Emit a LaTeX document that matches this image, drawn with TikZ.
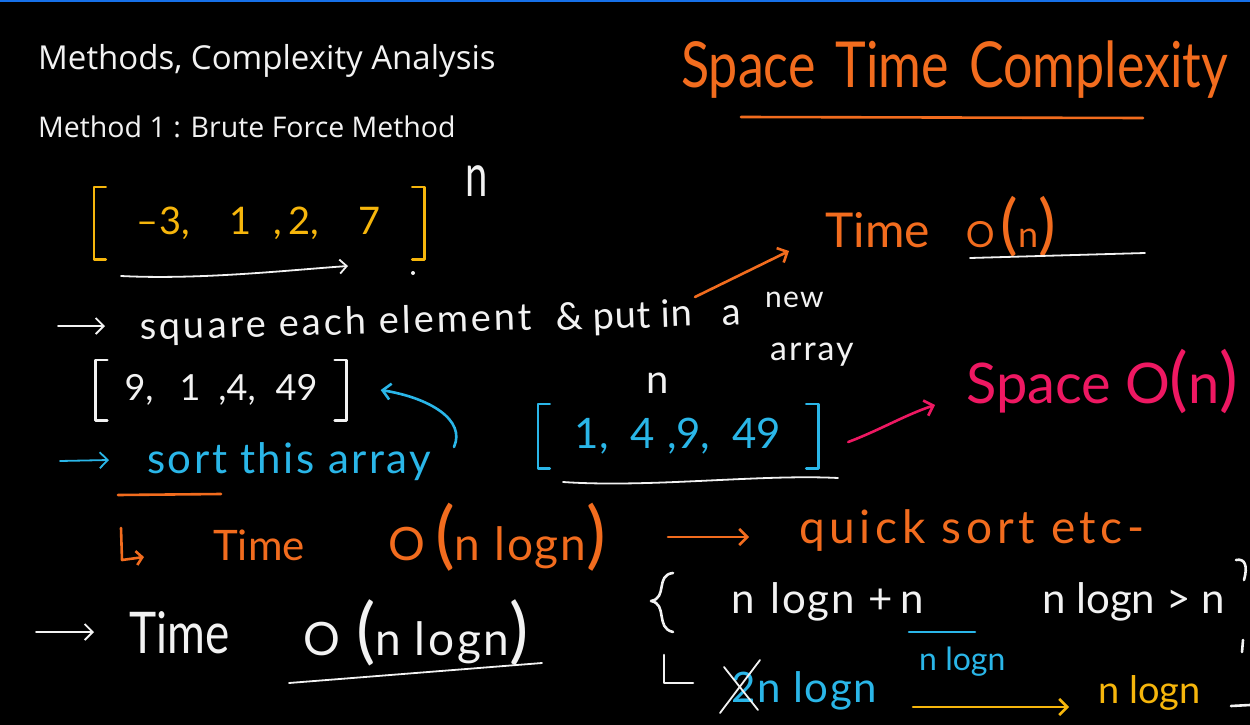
\documentclass[tikz,border=0pt]{standalone}
\usepackage{fontspec}
\setmainfont{Open Sans}
\newfontfamily\handfont{Lato}
\usetikzlibrary{arrows.meta}
\definecolor{chalk}{RGB}{242,242,242}
\definecolor{ora}{RGB}{242,108,30}
\definecolor{yel}{RGB}{246,182,12}
\definecolor{sky}{RGB}{42,182,232}
\definecolor{pnk}{RGB}{238,24,98}
\definecolor{topblue}{RGB}{22,112,232}
\newcommand\hfs[1]{\handfont\fontsize{#1}{#1}\selectfont}
\newcommand\fsz[2]{{\fontsize{#1}{#1}\selectfont #2}}
\newcommand\lsp[1]{\addfontfeature{LetterSpace=#1}}
\begin{document}
\begin{tikzpicture}[x=1pt,y=-1pt,
  hw/.style={inner sep=0pt, anchor=base west},
  ink/.style={line width=2.6pt, line cap=round, line join=round},
  thinink/.style={line width=1.8pt, line cap=round, line join=round},
  tip/.style={-{Straight Barb[length=8pt,width=16pt]}},
  arrbox/.style={inner sep=0pt},
]
\useasboundingbox (0,0) rectangle (1250,725);
\fill[black] (0,0) rectangle (1250,725);
\fill[topblue] (0,0) rectangle (1250,2.5);

% typed titles
\node[hw, chalk, font=\fontsize{33}{33}\selectfont] (title) at (38,70) {Methods, Complexity Analysis};
\node[hw, chalk, font=\fontsize{28.5}{28.5}\selectfont] (method) at (38,137) {Method 1 : Brute Force Method};

% Space Time Complexity
\node[hw, ora, font=\hfs{52}, yscale=1.22, transform shape] (stc) at (681,87) {Space\hspace{20pt}Time\hspace{20pt}Complexity};
\draw[ink, ora] (741,117) -- (1143,118);

% yellow array
\node[arrbox, yel, font=\hfs{38}, minimum width=330pt, minimum height=72pt] (arr1) at (259,223) {–3,\hspace{40pt}1\hspace{22pt},\hspace{6pt}2,\hspace{40pt}7};
\draw[ink, yel] ([xshift=12pt]arr1.north west) -- (arr1.north west) -- (arr1.south west) -- ([xshift=12pt]arr1.south west);
\draw[ink, yel] ([xshift=-12pt]arr1.north east) -- (arr1.north east) -- (arr1.south east) -- ([xshift=-12pt]arr1.south east);
\coordinate (w1a) at (121,276);
\coordinate (w1b) at (348,266);
\draw[thinink, chalk, -{Straight Barb[length=7pt,width=14pt]}] (w1a) .. controls (200,280) and (290,270) .. (w1b);
\fill[chalk] (413,273) circle (2pt);
\node[hw, chalk, font=\hfs{40}, yscale=1.5, transform shape] (n1) at (465,196) {n};

% Time O(n)
\node[hw, ora, font=\hfs{48}] (tOn) at (825,247) {Time\hspace{36pt}\fsz{36}{O}\hspace{6pt}\fsz{66}{(}\fsz{36}{n}\fsz{66}{)}};
\draw[thinink, chalk] (970,258) -- (1145,253);
\coordinate (oa1) at (695,297);
\draw[ink, ora, tip] (oa1) -- ([shift={(-36,4)}]tOn.base west);

% square line
\coordinate (sqa) at (58,326);
\node[hw, chalk, font={\hfs{38}\lsp{8}}, rotate=1.5] (sq1) at (140,340) {square each element};
\node[hw, chalk, font={\hfs{38}\lsp{2}}, rotate=2] (sq2) at (556,331) {\& put in\hspace{30pt}a};
\node[hw, chalk, font={\hfs{30}\lsp{4}}] (nw) at (765,307) {new};
\draw[thinink, chalk, tip] (sqa) -- ([shift={(-35,-14)}]sq1.base west);
\node[hw, chalk, font={\hfs{34}\lsp{6}}] (arrw) at (770,360) {array};

% white array
\node[arrbox, chalk, font=\hfs{36}, minimum width=251pt, minimum height=60pt] (arr2) at (221,390) {9,\hspace{26pt}1\hspace{18pt},4,\hspace{20pt}49};
\draw[ink, chalk] ([xshift=12pt]arr2.north west) -- (arr2.north west) -- (arr2.south west) -- ([xshift=12pt]arr2.south west);
\draw[ink, chalk] ([xshift=-12pt]arr2.north east) -- (arr2.north east) -- (arr2.south east) -- ([xshift=-12pt]arr2.south east);

% sort line
\coordinate (sta) at (60,461);
\node[hw, sky, font={\hfs{42}\lsp{6}}] (sort) at (147,473) {sort this array};
\draw[thinink, sky, tip] (sta) -- ([shift={(-38,-13)}]sort.base west);
\draw[ink, ora] (118,495) -- (221,494);
\coordinate (bca) at (454,447);
\draw[ink, sky, tip] (bca) .. controls (466,420) and (430,398) .. ([xshift=34pt]arr2.east);

% blue array
\node[hw, chalk, font=\hfs{40}] (n2) at (646,393) {n};
\node[arrbox, sky, font=\hfs{42}, minimum width=280pt, minimum height=64pt] (arr3) at (678,436) {1,\hspace{22pt}4\hspace{12pt},9,\hspace{22pt}49};
\draw[ink, sky] ([xshift=12pt]arr3.north west) -- (arr3.north west) -- (arr3.south west) -- ([xshift=12pt]arr3.south west);
\draw[ink, sky] ([xshift=-12pt]arr3.north east) -- (arr3.north east) -- (arr3.south east) -- ([xshift=-12pt]arr3.south east);
\draw[thinink, chalk] (563,482) .. controls (650,488) and (760,474) .. (838,478);

% Space O(n)
\node[hw, pnk, font=\hfs{56}] (space) at (966,403) {Space\hspace{14pt}O\fsz{70}{(}n\fsz{70}{)}};
\draw[ink, pnk, tip] ([shift={(30,6)}]arr3.east) .. controls (880,430) and (905,415) .. ([shift={(-31,2)}]space.base west);

% orange Time O(n logn)
\draw[ink, ora, -{Straight Barb[length=6pt,width=14pt]}] (121,528) -- (122,560) -- (144,557);
\node[hw, ora, font=\hfs{42}] (t2) at (213,560) {Time};
\node[hw, ora, font={\hfs{46}\lsp{4}}] (on2) at (388,560) {O\hspace{10pt}\fsz{74}{(}n\hspace{14pt}logn\fsz{74}{)}};
\node[hw, ora, font={\hfs{46}\lsp{10}}] (quick) at (799,543) {quick sort etc-};
\draw[ink, ora, tip] ([shift={(-131,-6)}]quick.base west) -- ([shift={(-50,-6)}]quick.base west);

% white Time O(n logn)
\coordinate (wta) at (36,632);
\node[hw, chalk, font=\hfs{46}, yscale=1.25, transform shape] (t3) at (129,653) {Time};
\draw[thinink, chalk, tip] (wta) -- ([shift={(-35,-21)}]t3.base west);
\node[hw, chalk, font={\hfs{46}\lsp{6}}] (on3) at (303,655) {O\hspace{16pt}\fsz{72}{(}n\hspace{14pt}logn\fsz{72}{)}};
\draw[thinink, chalk] (289,683) -- (542,663);

% brace block
\draw[ink, chalk] (673,573) .. controls (655,575) and (668,598) .. (651,601) .. controls (668,604) and (655,628) .. (673,632);
\draw[ink, chalk] (664,655) -- (664,683) -- (693,683);
\node[hw, chalk, font={\hfs{42}\lsp{4}}] (e1) at (731,613) {n\hspace{16pt}logn\hspace{14pt}+\hspace{8pt}n};
\draw[ink, sky] (909,632) -- (975,632);
\node[hw, chalk, font=\hfs{42}] (e2) at (1042,613) {n logn > n};
\draw[ink, chalk] (1236,560) .. controls (1245,558) and (1248,566) .. (1244,580);
\draw[ink, chalk] (1243,640) -- (1242,652);

\node[hw, sky, font={\hfs{42}\lsp{4}}] (e3) at (731,702) {2n logn};
\draw[thinink, chalk] (720,713) -- (760,660);
\draw[thinink, chalk] (724,667) -- (758,710);
\node[hw, sky, font=\hfs{32}] (e4) at (919,670) {n logn};
\node[hw, yel, font=\hfs{38}] (e5) at (1098,703) {n logn};
\draw[ink, yel, tip] ([shift={(-185,4)}]e5.base west) -- ([shift={(-29,4)}]e5.base west);
\draw[ink, chalk] (1231,706) -- (1250,705);
\end{tikzpicture}
\end{document}
